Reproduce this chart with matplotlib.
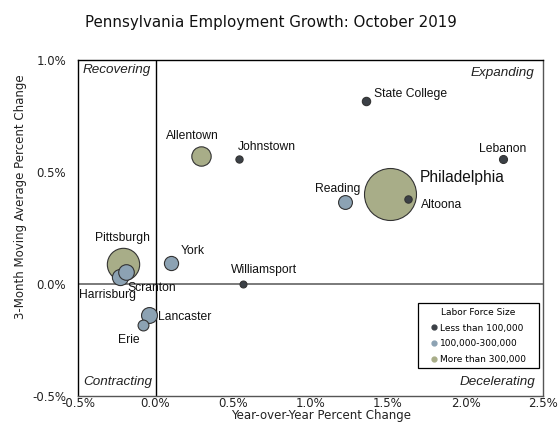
import matplotlib
matplotlib.use("Agg")
import matplotlib.pyplot as plt
from matplotlib.lines import Line2D
from matplotlib.patches import Rectangle

# ---- data ----
cities = ["State College", "Lebanon", "Johnstown", "Allentown", "Philadelphia", "Altoona",
          "Reading", "York", "Pittsburgh", "Williamsport", "Harrisburg", "Scranton",
          "Lancaster", "Erie"]
yoy = [1.358, 2.24, 0.541, 0.294, 1.515, 1.627, 1.222, 0.10, -0.208, 0.567, -0.229, -0.192, -0.04, -0.083]
mov3 = [0.818, 0.557, 0.557, 0.571, 0.400, 0.378, 0.367, 0.093, 0.088, 0.0, 0.033, 0.054, -0.14, -0.181]
labor_k = [80, 73, 60, 430, 3100, 62, 220, 230, 1200, 55, 300, 280, 290, 135]
size_class = [0, 0, 0, 2, 2, 0, 1, 1, 2, 0, 1, 1, 1, 1]
class_names = ["Less than 100,000", "100,000-300,000", "More than 300,000"]
x_ticks = [-0.5, 0.0, 0.5, 1.0, 1.5, 2.0, 2.5]
y_ticks = [-0.5, 0.0, 0.5, 1.0]

# ---- styles ----
colors = ["#3b4046", "#8ca2b3", "#a8ad88"]
# label offsets in pixels (dx, dy, ha, fontsize)
label_style = {
    "State College": (8, 7, "left", 8.7),
    "Lebanon": (0, 10, "center", 8.7),
    "Johnstown": (-2, 12, "left", 8.7),
    "Allentown": (-9, 20, "center", 8.7),
    "Philadelphia": (29, 17, "left", 11.2),
    "Altoona": (13, -6, "left", 8.7),
    "Reading": (15, 13, "right", 8.7),
    "York": (10, 12, "left", 8.7),
    "Pittsburgh": (-1, 26, "center", 8.7),
    "Williamsport": (21, 14, "center", 8.7),
    "Harrisburg": (-13, -18, "center", 8.7),
    "Scranton": (2, -16, "left", 8.7),
    "Lancaster": (9, -2, "left", 8.7),
    "Erie": (-14, -15, "center", 8.7),
}

W, H = 560, 428
fig = plt.figure(figsize=(W / 100, H / 100), dpi=100)
ax = fig.add_axes([78 / W, 1 - 396 / H, (543 - 78) / W, (396 - 60) / H])
ax.set_xlim(-0.5, 2.5)
ax.set_ylim(-0.5, 1.0)

ax.axhline(0, color="#707070", lw=1.3, zorder=1)
ax.axvline(0, color="black", lw=1.0, zorder=1)

# draw largest first
order = sorted(range(len(cities)), key=lambda i: -labor_k[i])
px_to_pt = 0.72
for i in order:
    s = 0.452 * labor_k[i]
    ax.scatter(yoy[i], mov3[i], s=s, color=colors[size_class[i]], edgecolor="#333333",
               linewidth=0.8, zorder=3)

for i, c in enumerate(cities):
    dx, dy, ha, fs = label_style[c]
    ax.annotate(c, (yoy[i], mov3[i]), xytext=(dx * px_to_pt, dy * px_to_pt),
                textcoords="offset points", ha=ha, va="center", fontsize=fs,
                family="Liberation Sans", color="#111111", zorder=4)

ax.set_xticks(x_ticks)
ax.set_xticklabels([f"{v:.1f}%" for v in x_ticks])
ax.set_yticks(y_ticks)
ax.set_yticklabels([f"{v:.1f}%" for v in y_ticks])
ax.tick_params(axis="x", length=0, labelsize=8.5, pad=0.5, colors="#222222")
ax.tick_params(axis="y", length=0, labelsize=8.5, pad=8.5, colors="#222222")

for sp in ["top", "left"]:
    ax.spines[sp].set_color("black")
    ax.spines[sp].set_linewidth(1.0)
for sp in ["right", "bottom"]:
    ax.spines[sp].set_color("#555555")
    ax.spines[sp].set_linewidth(1.0)

# quadrant labels
qfont = dict(family="Liberation Sans", style="italic", fontsize=9.7, color="#222222")
ax.text(5 / 465, 1 - 9.5 / 336, "Recovering", transform=ax.transAxes, ha="left", va="center", **qfont)
ax.text(1 - 9 / 465, 1 - 13 / 336, "Expanding", transform=ax.transAxes, ha="right", va="center", **qfont)
ax.text(5 / 465, 14 / 336, "Contracting", transform=ax.transAxes, ha="left", va="center", **qfont)
ax.text(1 - 8 / 465, 14 / 336, "Decelerating", transform=ax.transAxes, ha="right", va="center", **qfont)

fig.text(271 / W, 1 - 23 / H, "Pennsylvania Employment Growth: October 2019",
         ha="center", va="center", fontsize=10.8, family="DejaVu Sans", color="#111111")
fig.text(321 / W, 1 - 415 / H, "Year-over-Year Percent Change", ha="center", va="center",
         fontsize=8.5, family="DejaVu Sans", color="#222222")
fig.text(21 / W, 1 - 197 / H, "3-Month Moving Average Percent Change", ha="center", va="center",
         rotation=90, fontsize=8.5, family="DejaVu Sans", color="#222222")

# legend (frame drawn separately)
handles = [Line2D([], [], marker="o", ls="", color=colors[k], markersize=3.5,
                  label=class_names[k]) for k in range(3)]
leg = ax.legend(handles=handles, title="Labor Force Size", loc="center",
                bbox_to_anchor=(478.5 / W, 1 - 336 / H), bbox_transform=fig.transFigure,
                frameon=False,
                prop=dict(family="DejaVu Sans", size=6.5), title_fontsize=6.5,
                handlelength=0.6, handletextpad=0.3, borderpad=0.3, labelspacing=0.75)
fig.add_artist(Rectangle((418 / W, 1 - 368 / H), 121 / W, 65 / H, transform=fig.transFigure,
                         fill=False, edgecolor="black", linewidth=0.9))

fig.savefig("out.png", dpi=100)
